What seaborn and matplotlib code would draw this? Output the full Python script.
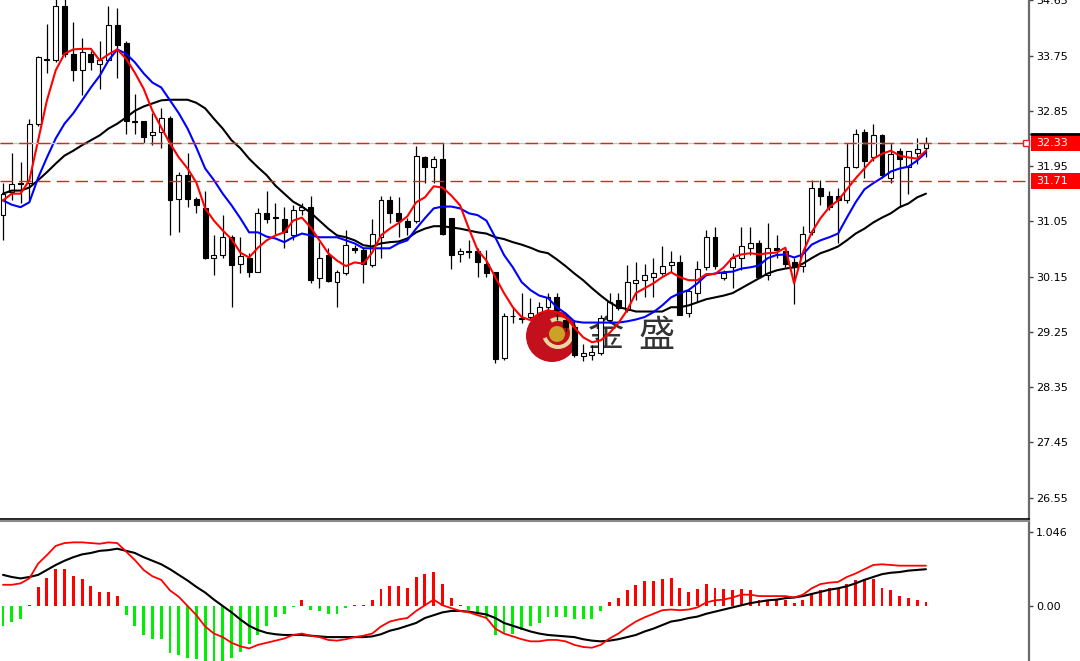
import numpy as np
import pandas as pd
import matplotlib
matplotlib.use("Agg")
import matplotlib.pyplot as plt
import matplotlib.transforms as mtransforms
from matplotlib.patches import Circle, Wedge, Rectangle
import seaborn as sns

# candles (price)
opens = [31.15, 31.52, 31.68, 31.67, 32.64, 33.70, 33.68, 34.55, 33.78, 33.51,
         33.78, 33.62, 33.68, 34.25, 33.95, 32.68, 32.68, 32.45, 32.51, 32.74,
         31.41, 31.81, 31.41, 31.26, 30.46, 30.50, 30.79, 30.36, 30.46, 30.23,
         31.19, 31.11, 31.08, 30.82, 31.23, 31.29, 30.12, 30.50, 30.06, 30.20,
         30.62, 30.58, 30.33, 30.80, 31.39, 31.18, 31.06, 31.05, 32.09, 31.93,
         32.06, 31.11, 30.51, 30.56, 30.56, 30.36, 30.22, 28.82, 29.50, 29.47,
         29.49, 29.55, 29.65, 29.81, 29.45, 29.32, 28.85, 28.87, 28.90, 29.44,
         29.76, 29.60, 30.04, 30.10, 30.14, 30.20, 30.33, 30.38, 29.55, 29.88,
         30.30, 30.79, 30.12, 30.30, 30.46, 30.62, 30.69, 30.17, 30.62, 30.56,
         30.38, 30.32, 30.87, 31.59, 31.47, 31.46, 31.39, 31.94, 32.50, 32.09,
         32.45, 31.76, 32.20, 31.93, 32.17, 32.24]
highs = [31.68, 32.17, 32.01, 32.71, 33.75, 34.27, 34.73, 34.69, 34.29, 34.03,
         33.83, 33.99, 34.55, 34.53, 33.99, 33.13, 32.69, 32.81, 32.90, 32.77,
         31.85, 32.16, 31.44, 31.55, 30.82, 31.15, 30.82, 30.80, 30.53, 31.26,
         31.54, 31.34, 31.29, 31.32, 31.34, 31.47, 30.71, 30.62, 30.25, 30.90,
         30.67, 30.61, 31.08, 31.47, 31.47, 31.44, 31.10, 32.27, 32.12, 32.12,
         32.32, 31.11, 30.61, 30.74, 30.61, 30.58, 30.22, 29.55, 29.65, 29.88,
         29.80, 29.73, 29.88, 29.88, 29.55, 29.44, 29.05, 29.03, 29.52, 29.88,
         29.88, 30.33, 30.38, 30.35, 30.46, 30.64, 30.56, 30.50, 29.97, 30.41,
         30.90, 30.95, 30.25, 30.54, 30.95, 30.95, 30.74, 31.02, 30.82, 30.62,
         30.45, 30.98, 31.72, 31.72, 31.55, 31.60, 32.33, 32.55, 32.55, 32.64,
         32.48, 32.33, 32.25, 32.20, 32.40, 32.42]
lows = [30.74, 31.39, 31.34, 31.39, 32.61, 33.46, 33.64, 33.73, 33.34, 33.10,
        33.51, 33.21, 33.67, 33.39, 32.48, 32.48, 32.32, 32.29, 32.24, 30.82,
        30.87, 31.28, 31.18, 30.43, 30.17, 30.45, 29.65, 30.20, 30.15, 30.22,
        31.03, 30.85, 30.62, 30.74, 31.15, 30.04, 29.97, 30.06, 29.65, 30.17,
        30.54, 30.04, 30.30, 30.46, 31.03, 30.79, 30.82, 31.02, 31.68, 31.67,
        30.82, 30.28, 30.38, 30.45, 30.14, 30.14, 28.74, 28.79, 29.39, 29.40,
        29.44, 29.52, 29.60, 29.44, 29.27, 28.84, 28.77, 28.79, 28.87, 29.40,
        29.60, 29.57, 29.76, 29.81, 29.81, 30.17, 30.22, 29.52, 29.49, 29.73,
        30.25, 30.28, 30.09, 29.97, 30.25, 30.50, 30.12, 30.09, 30.46, 30.30,
        29.70, 30.22, 30.82, 31.31, 31.23, 30.69, 31.34, 31.91, 31.75, 32.04,
        31.76, 31.68, 31.28, 31.50, 31.99, 32.09]
closes = [31.50, 31.65, 31.65, 32.64, 33.72, 33.67, 34.55, 33.78, 33.51, 33.80,
          33.64, 33.67, 34.25, 33.93, 32.69, 32.67, 32.42, 32.51, 32.74, 31.39,
          31.81, 31.42, 31.31, 30.46, 30.50, 30.79, 30.33, 30.48, 30.22, 31.19,
          31.08, 31.10, 30.87, 31.24, 31.29, 30.09, 30.46, 30.07, 30.22, 30.66,
          30.58, 30.36, 30.85, 31.39, 31.18, 31.06, 30.95, 32.11, 31.93, 32.06,
          30.85, 30.50, 30.56, 30.55, 30.38, 30.20, 28.80, 29.50, 29.50, 29.46,
          29.55, 29.66, 29.81, 29.60, 29.32, 28.87, 28.90, 28.92, 29.47, 29.73,
          29.63, 30.06, 30.09, 30.17, 30.20, 30.32, 30.38, 29.53, 29.91, 30.28,
          30.79, 30.32, 30.20, 30.46, 30.64, 30.69, 30.14, 30.62, 30.58, 30.36,
          30.30, 30.85, 31.60, 31.47, 31.28, 31.39, 31.94, 32.48, 32.04, 32.45,
          31.80, 32.15, 32.07, 32.19, 32.22, 32.33]

# moving averages
ma_red = [31.39, 31.50, 31.50, 31.72, 32.37, 33.02, 33.51, 33.78, 33.85, 33.86,
          33.86, 33.67, 33.77, 33.85, 33.70, 33.47, 33.21, 32.85, 32.58, 32.32,
          32.09, 31.91, 31.68, 31.26, 31.06, 30.90, 30.76, 30.54, 30.46, 30.62,
          30.74, 30.82, 30.87, 31.06, 31.11, 30.95, 30.74, 30.53, 30.41, 30.32,
          30.38, 30.36, 30.54, 30.82, 30.93, 31.02, 31.13, 31.36, 31.44, 31.62,
          31.60, 31.47, 31.31, 30.93, 30.58, 30.41, 30.14, 29.88, 29.65, 29.49,
          29.44, 29.55, 29.60, 29.57, 29.49, 29.32, 29.16, 29.08, 29.11, 29.23,
          29.39, 29.60, 29.88, 29.96, 30.04, 30.14, 30.22, 30.14, 30.09, 30.09,
          30.19, 30.19, 30.30, 30.46, 30.51, 30.53, 30.51, 30.53, 30.54, 30.62,
          30.04, 30.54, 30.87, 31.10, 31.28, 31.39, 31.57, 31.75, 31.91, 32.07,
          32.15, 32.20, 32.12, 32.09, 32.07, 32.20]
ma_blue = [31.39, 31.32, 31.28, 31.36, 31.76, 32.09, 32.40, 32.64, 32.81, 33.02,
           33.23, 33.42, 33.67, 33.85, 33.78, 33.64, 33.46, 33.31, 33.23, 33.02,
           32.81, 32.56, 32.25, 31.91, 31.72, 31.50, 31.31, 31.10, 30.87, 30.87,
           30.80, 30.77, 30.71, 30.79, 30.85, 30.82, 30.79, 30.79, 30.79, 30.74,
           30.69, 30.61, 30.61, 30.61, 30.61, 30.69, 30.74, 30.93, 31.10, 31.26,
           31.29, 31.29, 31.26, 31.18, 31.15, 31.06, 30.79, 30.50, 30.30, 30.06,
           29.93, 29.84, 29.80, 29.65, 29.55, 29.42, 29.40, 29.40, 29.40, 29.40,
           29.40, 29.42, 29.45, 29.49, 29.57, 29.68, 29.81, 29.88, 29.93, 30.04,
           30.17, 30.20, 30.22, 30.23, 30.28, 30.30, 30.33, 30.45, 30.50, 30.51,
           30.46, 30.51, 30.67, 30.74, 30.79, 30.85, 31.11, 31.36, 31.57, 31.67,
           31.76, 31.86, 31.91, 31.94, 32.04, 32.17]
ma_black = [31.50, 31.55, 31.55, 31.60, 31.72, 31.85, 31.99, 32.12, 32.20, 32.29,
            32.37, 32.45, 32.56, 32.64, 32.74, 32.85, 32.92, 32.97, 33.02, 33.03,
            33.03, 33.03, 32.98, 32.89, 32.72, 32.56, 32.37, 32.24, 32.07, 31.93,
            31.80, 31.63, 31.50, 31.37, 31.29, 31.19, 31.06, 30.93, 30.82, 30.79,
            30.74, 30.66, 30.64, 30.69, 30.71, 30.72, 30.77, 30.87, 30.93, 30.97,
            30.97, 30.95, 30.93, 30.90, 30.87, 30.85, 30.79, 30.76, 30.71, 30.67,
            30.62, 30.56, 30.53, 30.43, 30.32, 30.20, 30.09, 29.96, 29.84, 29.73,
            29.65, 29.62, 29.58, 29.58, 29.58, 29.58, 29.65, 29.65, 29.68, 29.73,
            29.78, 29.81, 29.84, 29.88, 29.96, 30.04, 30.12, 30.20, 30.25, 30.28,
            30.30, 30.36, 30.45, 30.53, 30.58, 30.64, 30.74, 30.85, 30.93, 31.03,
            31.11, 31.18, 31.28, 31.34, 31.44, 31.50]

# MACD window
macd_hist = [-0.29, -0.22, -0.18, 0.01, 0.27, 0.39, 0.53, 0.53, 0.42, 0.38,
             0.28, 0.20, 0.20, 0.14, -0.13, -0.28, -0.41, -0.47, -0.47, -0.66,
             -0.69, -0.73, -0.75, -0.78, -0.78, -0.78, -0.73, -0.65, -0.54, -0.41,
             -0.28, -0.16, -0.11, -0.02, 0.08, -0.06, -0.07, -0.11, -0.11, -0.03,
             0.01, 0.01, 0.09, 0.24, 0.28, 0.28, 0.26, 0.41, 0.45, 0.48,
             0.31, 0.12, 0.01, -0.06, -0.10, -0.16, -0.41, -0.39, -0.39, -0.34,
             -0.29, -0.24, -0.15, -0.15, -0.15, -0.19, -0.19, -0.19, -0.07, 0.06,
             0.12, 0.22, 0.30, 0.36, 0.36, 0.38, 0.39, 0.25, 0.20, 0.24,
             0.31, 0.26, 0.24, 0.22, 0.24, 0.23, 0.08, 0.08, 0.08, 0.08,
             0.04, 0.08, 0.19, 0.23, 0.25, 0.25, 0.31, 0.37, 0.38, 0.38,
             0.25, 0.22, 0.14, 0.11, 0.08, 0.06]
macd_red = [0.30, 0.30, 0.32, 0.39, 0.60, 0.72, 0.85, 0.89, 0.90, 0.90,
            0.89, 0.88, 0.90, 0.89, 0.77, 0.65, 0.51, 0.42, 0.37, 0.22,
            0.13, 0.00, -0.13, -0.29, -0.39, -0.44, -0.52, -0.57, -0.60, -0.55,
            -0.52, -0.49, -0.46, -0.41, -0.39, -0.42, -0.44, -0.48, -0.49, -0.47,
            -0.44, -0.42, -0.39, -0.29, -0.22, -0.19, -0.17, -0.07, 0.01, 0.09,
            0.01, -0.03, -0.07, -0.09, -0.13, -0.17, -0.32, -0.39, -0.43, -0.47,
            -0.50, -0.50, -0.48, -0.48, -0.50, -0.55, -0.58, -0.59, -0.55, -0.46,
            -0.39, -0.30, -0.22, -0.16, -0.11, -0.06, -0.05, -0.06, -0.05, -0.02,
            0.05, 0.08, 0.09, 0.12, 0.16, 0.16, 0.14, 0.14, 0.14, 0.14,
            0.12, 0.16, 0.25, 0.31, 0.33, 0.34, 0.41, 0.46, 0.52, 0.58,
            0.59, 0.58, 0.57, 0.57, 0.57, 0.57]
macd_black = [0.44, 0.41, 0.39, 0.41, 0.44, 0.51, 0.58, 0.64, 0.69, 0.73,
              0.75, 0.78, 0.79, 0.81, 0.78, 0.75, 0.69, 0.64, 0.59, 0.52,
              0.44, 0.36, 0.27, 0.19, 0.09, 0.00, -0.09, -0.19, -0.28, -0.34,
              -0.38, -0.40, -0.41, -0.41, -0.41, -0.42, -0.43, -0.44, -0.44, -0.44,
              -0.44, -0.44, -0.43, -0.40, -0.35, -0.32, -0.28, -0.24, -0.17, -0.13,
              -0.09, -0.07, -0.07, -0.08, -0.10, -0.12, -0.17, -0.24, -0.28, -0.32,
              -0.36, -0.39, -0.41, -0.42, -0.43, -0.44, -0.47, -0.49, -0.50, -0.49,
              -0.47, -0.44, -0.41, -0.36, -0.32, -0.27, -0.22, -0.20, -0.17, -0.15,
              -0.11, -0.08, -0.05, -0.02, 0.01, 0.04, 0.06, 0.08, 0.09, 0.11,
              0.12, 0.14, 0.17, 0.20, 0.23, 0.25, 0.28, 0.32, 0.37, 0.41,
              0.45, 0.47, 0.48, 0.50, 0.51, 0.52]

price_ticks = [26.55, 27.45, 28.35, 29.25, 30.15, 31.05, 31.95, 32.85, 33.75, 34.65]
levels = [32.33, 31.71]
last_price = 32.33

df = pd.DataFrame({"open": opens, "high": highs, "low": lows, "close": closes,
                   "ma_red": ma_red, "ma_blue": ma_blue, "ma_black": ma_black,
                   "hist": macd_hist, "macd_red": macd_red, "macd_black": macd_black})
df["idx"] = np.arange(len(df))

sns.set_style("white")
plt.rcParams["font.family"] = ["DejaVu Sans"]

W, H = 1080, 661
fig = plt.figure(figsize=(W / 100, H / 100), dpi=100, facecolor="white")
ax = fig.add_axes([0, 1 - 519 / H, 1029 / W, 519 / H], zorder=1)
axm = fig.add_axes([0, 0, 1029 / W, 140 / H], zorder=1)
ax.patch.set_alpha(0)

# watermark logo under the candles
logo = fig.add_axes([520 / W, 1 - 365 / H, 160 / W, 60 / H], zorder=0)
logo.set_xlim(0, 160)
logo.set_ylim(0, 60)
logo.axis("off")
logo.add_patch(Circle((32, 29), 26, fc="#C3101C", ec="none"))
logo.add_patch(Wedge((38, 32), 16, 200, 120, width=4, fc="#E9D9A0", ec="none"))
logo.add_patch(Circle((37, 31), 8, fc="#C9A227", ec="none"))
for xx, ch in [(86, "金"), (136, "盛")]:
    logo.text(xx, 29, ch, family=["Noto Sans CJK SC", "DejaVu Sans"], fontsize=26,
              color="#333333", ha="center", va="center")

# candles
bull = df["close"] >= df["open"]
body_lo = np.minimum(df["open"], df["close"])
body_h = np.maximum((df["close"] - df["open"]).abs(), 0.012)
ax.vlines(df["idx"], df["low"], df["high"], color="black", lw=0.9, zorder=2)
ax.bar(df["idx"], body_h, bottom=body_lo, width=0.56,
       color=np.where(bull, "white", "black"), edgecolor="black", linewidth=0.8, zorder=2.5)

for col, c in [("ma_black", "black"), ("ma_blue", "#0000FF"), ("ma_red", "#FF0000")]:
    sns.lineplot(data=df, x="idx", y=col, color=c, lw=1.5, ax=ax, zorder=3)

# horizontal levels
ax.axhline(last_price, color="#C8C8C8", lw=1, zorder=3.5)
for lv in levels:
    ax.axhline(lv, color="#E52020", lw=1, linestyle=(0, (9, 4.5)), zorder=4)

ax.set_xlim(-0.34, 116.72)
ax.set_ylim(26.20, 34.655)
ax.set_xticks([])
ax.set_yticks(price_ticks)
ax.set_yticklabels([f"{t:.2f}" for t in price_ticks])
ax.yaxis.tick_right()
ax.tick_params(axis="y", direction="out", length=3, width=1, color="#444444",
               pad=2, labelsize=8, labelcolor="black")
ax.set_xlabel("")
ax.set_ylabel("")
for s in ["left", "top"]:
    ax.spines[s].set_visible(False)
ax.spines["right"].set_color("#6a6a6a")
ax.spines["right"].set_linewidth(1.6)
ax.spines["bottom"].set_color("black")
ax.spines["bottom"].set_linewidth(1.2)

# price labels on the axis
blend = mtransforms.blended_transform_factory(ax.transAxes, ax.transData)
for lv in levels:
    ax.add_patch(Rectangle((1.002, lv - 0.13), 0.048, 0.26, transform=blend,
                           fc="#FF0000", ec="none", clip_on=False, zorder=10))
    ax.text(1.007, lv, f"{lv:.2f}", transform=blend, color="white", fontsize=8,
            va="center", ha="left", clip_on=False, zorder=11)
ax.plot([1.002, 1.05], [last_price + 0.15] * 2, transform=blend, color="black",
        lw=2, clip_on=False, zorder=11)
ax.plot([0.997], [last_price], transform=blend, marker="s", ms=4, mfc="white",
        mec="#E52020", mew=1, clip_on=False, zorder=11)

# MACD
axm.bar(df["idx"], df["hist"], width=0.33,
        color=np.where(df["hist"] >= 0, "#FF0000", "#00EE00"), linewidth=0, zorder=2)
sns.lineplot(data=df, x="idx", y="macd_black", color="black", lw=1.5, ax=axm, zorder=3)
sns.lineplot(data=df, x="idx", y="macd_red", color="#FF0000", lw=1.3, ax=axm, zorder=3)
axm.set_xlim(-0.34, 116.72)
axm.set_ylim(-0.778, 1.202)
axm.set_xticks([])
axm.set_yticks([1.046, 0.0])
axm.set_yticklabels(["1.046", "0.00"])
axm.yaxis.tick_right()
axm.tick_params(axis="y", direction="out", length=3, width=1, color="#444444",
                pad=2, labelsize=8, labelcolor="black")
axm.set_xlabel("")
axm.set_ylabel("")
for s in ["left", "bottom"]:
    axm.spines[s].set_visible(False)
axm.spines["right"].set_color("#6a6a6a")
axm.spines["right"].set_linewidth(1.6)
axm.spines["top"].set_color("#8a8a8a")
axm.spines["top"].set_linewidth(1.5)
blend_m = mtransforms.blended_transform_factory(axm.transAxes, axm.transData)
axm.text(1.008, -0.86, "-0.832", transform=blend_m, fontsize=8, va="center",
         ha="left", clip_on=False)

fig.savefig("out.png", dpi=100, facecolor="white")
